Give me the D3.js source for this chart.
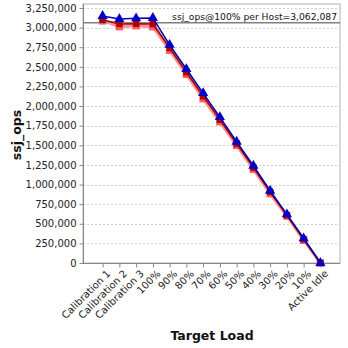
<!DOCTYPE html>
<html><head><meta charset="utf-8">
<script src="https://cdn.jsdelivr.net/npm/d3@7"></script>
<style>body{margin:0;background:#fff}svg{display:block}text{font-family:"DejaVu Sans",Verdana,sans-serif}</style>
</head><body><svg id="c" width="348" height="348"></svg>
<script>
const categories = ["Calibration 1","Calibration 2","Calibration 3","100%","90%","80%","70%","60%","50%","40%","30%","20%","10%","Active Idle"];
const yTicks = [0,250000,500000,750000,1000000,1250000,1500000,1750000,2000000,2250000,2500000,2750000,3000000,3250000];
const refValue = 3062087;
const refLabel = "ssj_ops@100% per Host=3,062,087";
const seriesLightRed = [3088000,3012000,3025000,3012000,2712000,2405000,2095000,1800000,1500000,1195000,885000,598000,290000,0];
const seriesDarkRed  = [3100000,3046000,3050000,3046000,2740000,2430000,2125000,1825000,1520000,1215000,905000,608000,302000,0];
const seriesGray     = [3080000,3060000,3060000,3062087,2755000,2448000,2140000,1835000,1530000,1225000,915000,612000,306000,0];
const seriesBlue     = [3148000,3110000,3119000,3123000,2780000,2472000,2165000,1860000,1546000,1240000,921000,620000,315000,0];

const svg = d3.select("#c");
const L=83, R=340, T=4, B=263;
const x = d3.scalePoint().domain(categories).range([L,R]).padding(1.17);
const y = d3.scaleLinear().domain([0,3250000]).range([B,8]);

svg.append("rect").attr("x",L).attr("y",T).attr("width",R-L).attr("height",B-T)
  .attr("fill","#fff").attr("stroke","#b0b0b0");
svg.append("g").selectAll("line").data(yTicks.filter(d=>d>0)).join("line")
  .attr("x1",L).attr("x2",R).attr("y1",d=>Math.round(y(d))+0.5).attr("y2",d=>Math.round(y(d))+0.5)
  .attr("stroke","#d0d0d0").attr("stroke-dasharray","2,2");

const ya = svg.append("g").attr("transform",`translate(${L+0.5},0)`)
  .call(d3.axisLeft(y).tickValues(yTicks).tickFormat(d3.format(",")).tickSize(4).tickSizeOuter(0));
ya.selectAll("text").attr("font-size",10).attr("fill","#222");
ya.selectAll("line,path").attr("stroke","#888");
ya.select("path").attr("d",`M0,${T}V${B}`);
const xa = svg.append("g").attr("transform",`translate(0,${B+0.5})`)
  .call(d3.axisBottom(x).tickSize(4).tickSizeOuter(0));
xa.select("path").attr("d",`M${L},0H${R}`).attr("stroke","#888");
xa.selectAll("line").attr("stroke","#888");
xa.selectAll("text").attr("font-size",10).attr("fill","#222")
  .attr("text-anchor","end").attr("transform","translate(4,4) rotate(-45)").attr("dy","0.35em").attr("y",4).attr("x",-2);

svg.append("line").attr("x1",L).attr("x2",R).attr("y1",y(refValue)).attr("y2",y(refValue))
  .attr("stroke","#808080").attr("stroke-width",1.5);
svg.append("text").attr("x",R-3).attr("y",y(refValue)-2.5).attr("text-anchor","end")
  .attr("font-size",9.2).attr("fill","#111").text(refLabel);

const line = d3.line().x((d,i)=>x(categories[i])).y(d=>y(d));
function drawSeries(vals,color,width,sym,symColor,size){
  svg.append("path").datum(vals).attr("d",line).attr("fill","none").attr("stroke",color).attr("stroke-width",width);
  if(sym){
    svg.append("g").selectAll("path").data(vals).join("path")
      .attr("transform",(d,i)=>`translate(${x(categories[i])},${y(d)})`)
      .attr("d",d3.symbol().type(sym).size(size)).attr("fill",symColor);
  }
}
drawSeries(seriesLightRed,"#ff9090",3,d3.symbolSquare,"#ff5a5a",55);
drawSeries(seriesGray,"#909090",1.5,d3.symbolSquare,"#808080",36);
drawSeries(seriesDarkRed,"#b00000",1.5,d3.symbolSquare,"#b00000",40);
drawSeries(seriesBlue,"#0000b0",1.5,d3.symbolTriangle,"#0000c8",45);

svg.append("text").attr("x",212).attr("y",340).attr("text-anchor","middle")
  .attr("font-size",12.5).attr("font-weight","bold").attr("fill","#111").text("Target Load");
svg.append("text").attr("transform","translate(21,135) rotate(-90)").attr("text-anchor","middle")
  .attr("font-size",12.5).attr("font-weight","bold").attr("fill","#111").text("ssj_ops");
</script></body></html>
